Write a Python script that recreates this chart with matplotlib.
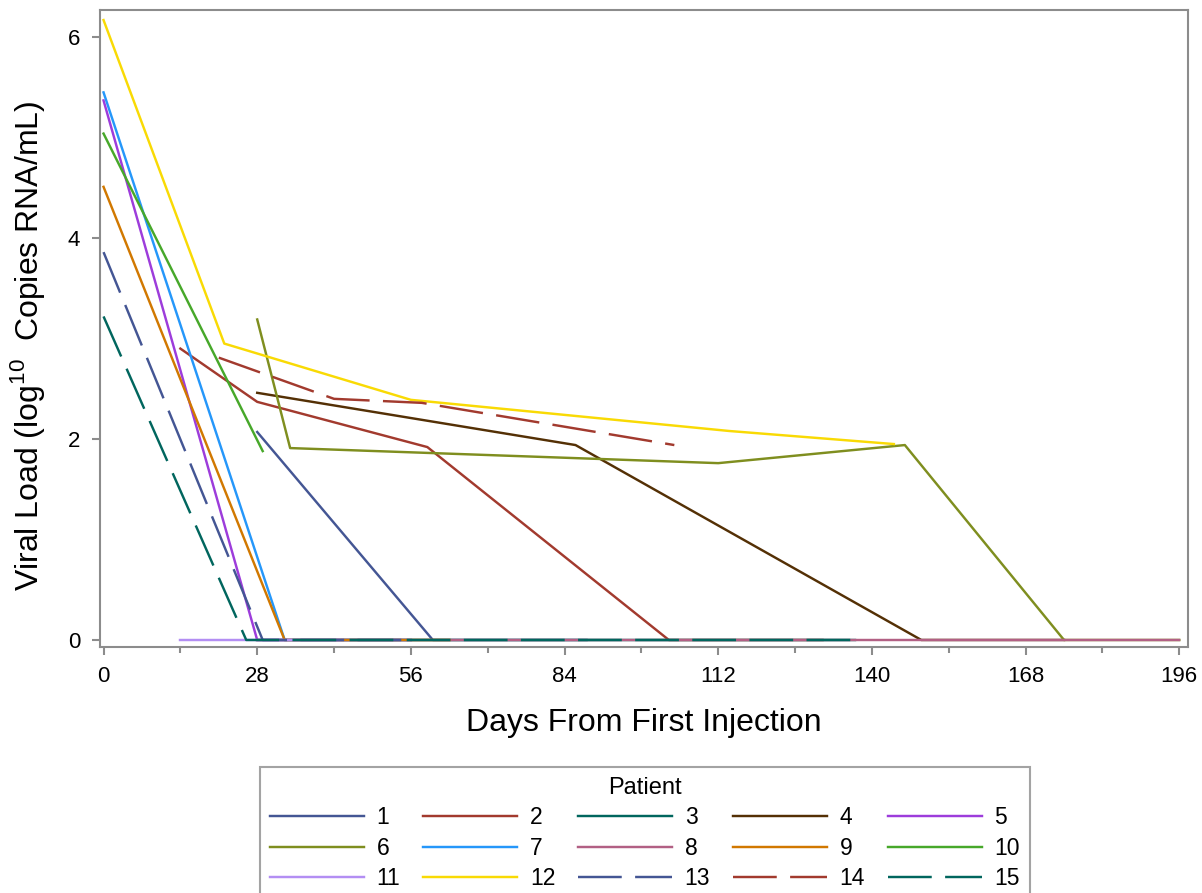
import matplotlib
matplotlib.use("Agg")
import matplotlib.pyplot as plt

plt.rcParams['font.family'] = ['Liberation Sans', 'DejaVu Sans']
plt.rcParams['mathtext.fontset'] = 'custom'
plt.rcParams['mathtext.rm'] = 'Liberation Sans'

# days from first injection / log10 viral load, one pair per patient
p1_days = [28, 60, 88]
p1_vl = [2.07, 0, 0]
p2_days = [14, 28, 59, 103, 131]
p2_vl = [2.90, 2.37, 1.92, 0, 0]
p3_days = [28, 56, 84, 112, 137]
p3_vl = [0, 0, 0, 0, 0]
p4_days = [28, 86, 149, 175]
p4_vl = [2.46, 1.94, 0, 0]
p5_days = [0, 28, 56]
p5_vl = [5.37, 0, 0]
p6_days = [28, 34, 112, 146, 175, 196]
p6_vl = [3.19, 1.91, 1.76, 1.94, 0, 0]
p7_days = [0, 33, 56]
p7_vl = [5.45, 0, 0]
p8_days = [28, 56, 84, 112, 140, 168, 196]
p8_vl = [0, 0, 0, 0, 0, 0, 0]
p9_days = [0, 33, 63]
p9_vl = [4.51, 0, 0]
p10_days = [0, 29]
p10_vl = [5.04, 1.88]
p11_days = [14, 43]
p11_vl = [0, 0]
p12_days = [0, 22, 56, 114, 144]
p12_vl = [6.17, 2.95, 2.39, 2.08, 1.95]
p13_days = [0, 29, 56]
p13_vl = [3.86, 0, 0]
p14_days = [21, 42, 58, 104]
p14_vl = [2.81, 2.40, 2.36, 1.94]
p15_days = [0, 26, 56, 84, 112, 137]
p15_vl = [3.22, 0, 0, 0, 0, 0]

patients = [str(i) for i in range(1, 16)]
all_days = [p1_days, p2_days, p3_days, p4_days, p5_days, p6_days, p7_days, p8_days,
            p9_days, p10_days, p11_days, p12_days, p13_days, p14_days, p15_days]
all_vl = [p1_vl, p2_vl, p3_vl, p4_vl, p5_vl, p6_vl, p7_vl, p8_vl,
          p9_vl, p10_vl, p11_vl, p12_vl, p13_vl, p14_vl, p15_vl]

colors = ['#445694', '#A23A2E', '#01665E', '#543005', '#9D3CDB', '#7F8E1F',
          '#2597FA', '#B26084', '#D17800', '#47A82A', '#B38EF3', '#F9DA04',
          '#445694', '#A23A2E', '#01665E']
dashed = [False] * 12 + [True] * 3

gray = '#8c8c8c'
lw = 1.75

fig = plt.figure(figsize=(12.02, 8.93), dpi=100)
ax = fig.add_axes([0.0828, 0.2758, 0.9884 - 0.0828, 0.9888 - 0.2758])

handles = []
for i in range(15):
    if dashed[i]:
        ln, = ax.plot(all_days[i], all_vl[i], color=colors[i], lw=lw,
                      dashes=(18, 5.5), dash_capstyle='butt')
    else:
        ln, = ax.plot(all_days[i], all_vl[i], color=colors[i], lw=lw)
    handles.append(ln)

ax.set_xlim(-0.73, 197.6)
ax.set_ylim(-0.067, 6.27)
ax.set_xticks(range(0, 197, 28))
ax.set_xticks(range(14, 197, 28), minor=True)
ax.set_yticks([0, 2, 4, 6])

for s in ax.spines.values():
    s.set_color(gray)
    s.set_linewidth(1.5)
ax.tick_params(axis='both', which='major', direction='out', length=6, width=1.5,
               color=gray, labelsize=16, pad=8)
ax.tick_params(axis='x', which='minor', direction='out', length=4, width=1.5, color=gray)

ax.set_xlabel('Days From First Injection', fontsize=23, labelpad=15)
ax.set_ylabel(r'Viral Load (log$^{10}$  Copies RNA/mL)', fontsize=23)
ax.yaxis.set_label_coords(-0.0485, 0.472)

# legend is filled row by row in the reference
order = []
for c in range(5):
    for r in range(3):
        order.append(r * 5 + c)
leg = fig.legend([handles[k] for k in order], [patients[k] for k in order],
                 title='Patient', ncol=5, loc='upper center',
                 bbox_to_anchor=(645 / 1202, 1 - 767 / 893), borderaxespad=0,
                 fontsize=16.5, title_fontsize=17, frameon=True, fancybox=False,
                 edgecolor=gray, handlelength=4.1, handletextpad=0.55,
                 columnspacing=1.0, labelspacing=0.31, borderpad=0.45)
leg.get_frame().set_linewidth(1.5)

fig.savefig('out.png', dpi=100)
